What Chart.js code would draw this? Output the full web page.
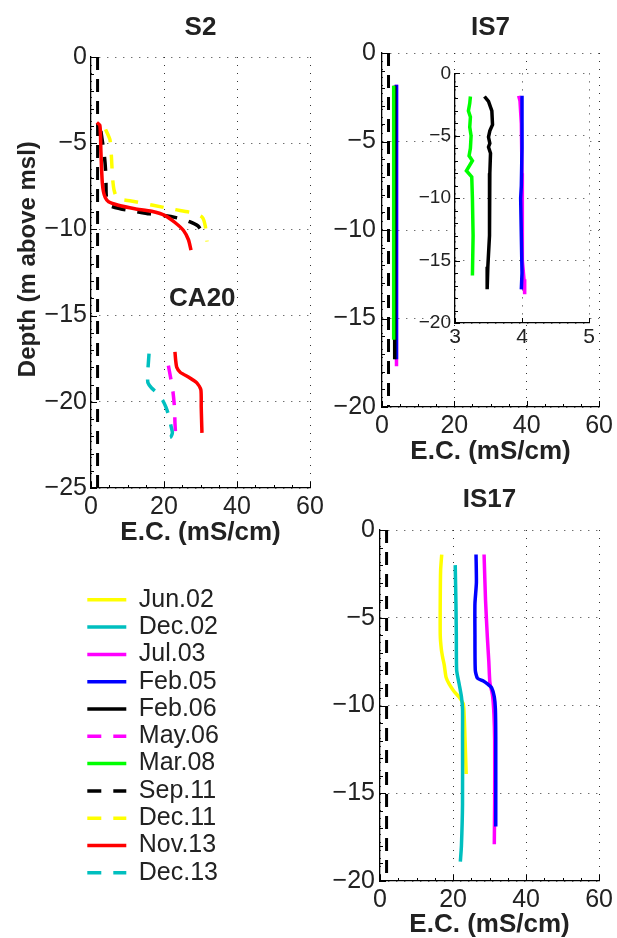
<!DOCTYPE html>
<html>
<head>
<meta charset="utf-8">
<script src="https://cdn.jsdelivr.net/npm/chart.js@4.4.0/dist/chart.umd.min.js"></script>
<style>
  html, body { margin: 0; padding: 0; background: #fff; overflow: hidden; }
  #wrap { position: relative; width: 617px; height: 938px; }
  canvas { position: absolute; }
</style>
</head>
<body>
<div id="wrap">
  <canvas id="cS2" width="330" height="550" style="left:0px;top:0px"></canvas>
  <canvas id="cIS7" width="297" height="470" style="left:320px;top:0px"></canvas>
  <canvas id="cInset" width="210" height="295" style="left:395px;top:58px"></canvas>
  <canvas id="cIS17" width="297" height="468" style="left:320px;top:470px"></canvas>
  <canvas id="cLegend" width="230" height="330" style="left:85px;top:585px"></canvas>
</div>
<script>
/* ---------- legend / survey dates ---------- */
const legendLabels = ['Jun.02', 'Dec.02', 'Jul.03', 'Feb.05', 'Feb.06', 'May.06', 'Mar.08', 'Sep.11', 'Dec.11', 'Nov.13', 'Dec.13'];
const legendColors = ['#ffff00', '#00bfbf', '#ff00ff', '#0000ff', '#000000', '#ff00ff', '#00ff00', '#000000', '#ffff00', '#ff0000', '#00bfbf'];
const legendDashed = [false, false, false, false, false, true, false, true, true, false, true];

/* ---------- profiles: [E.C. (mS/cm), depth (m above msl)] ---------- */
// vertical reference line drawn in every panel
const refS2 = [[1.8, 0], [1.8, -25]];
const refIS = [[1.8, 0], [1.8, -20]];

// S2
const s2Sep11 = [[2.7, -4.3], [3.2, -5.0], [3.7, -5.8], [4.0, -6.6], [4.1, -7.3], [4.2, -8.1], [5, -8.6], [8, -8.8], [12, -8.95], [16, -9.1], [20, -9.2], [24, -9.35], [27, -9.55], [29.3, -9.8], [30.6, -10.2]];
const s2Dec11 = [[4.0, -4.2], [5.2, -4.8], [5.6, -5.8], [5.9, -7.0], [6.3, -7.7], [7.2, -8.2], [11, -8.35], [17, -8.6], [23, -8.85], [28, -9.05], [30.5, -9.3], [31.3, -9.8], [31.8, -10.7]];
const s2Nov13 = [[1.6, -3.8], [2.4, -3.95], [2.6, -4.5], [2.7, -5.4], [2.9, -6.5], [3.1, -7.3], [3.4, -7.8], [3.9, -8.15], [4.8, -8.4], [7.5, -8.6], [12, -8.8], [16.6, -8.95], [20.3, -9.2], [23, -9.6], [25.3, -10.05], [26.7, -10.6], [27.4, -11.2]];

// CA20 (drawn in the S2 axes)
const ca20May06 = [[21.2, -17.9], [21.9, -18.7], [22.5, -19.5], [22.9, -20.4], [23.0, -21.2], [23.2, -22.0]];
const ca20Nov13 = [[23.0, -17.1], [23.2, -17.6], [23.5, -18.0], [24.5, -18.3], [27, -18.6], [29, -18.9], [30.1, -19.3], [30.2, -20.3], [30.3, -21.1], [30.4, -21.8]];
const ca20Dec13 = [[15.9, -17.2], [15.7, -17.8], [15.5, -18.4], [15.6, -18.9], [16.6, -19.2], [18.2, -19.5], [19.6, -19.9], [20.5, -20.3], [21.3, -20.8], [21.8, -21.3], [22.3, -21.8], [21.8, -22.05], [20.4, -22.1]];

// IS7
const is7Jul03 = [[3.95, -1.8], [3.97, -2.2], [3.99, -4], [4.0, -8], [4.0, -12], [4.01, -15], [4.03, -16.5], [4.04, -17.7]];
const is7Feb05 = [[4.0, -1.8], [4.0, -6], [3.99, -9], [3.98, -10], [3.99, -13], [4.0, -16], [3.99, -17.3]];
const is7Feb06 = [[3.44, -1.85], [3.50, -2.25], [3.55, -3.0], [3.56, -4.1], [3.52, -4.6], [3.50, -5.1], [3.52, -5.6], [3.50, -5.9], [3.53, -6.4], [3.52, -8], [3.52, -10.3], [3.51, -13], [3.49, -15.5], [3.48, -17.3]];
const is7Mar08 = [[3.23, -1.85], [3.22, -2.4], [3.20, -3.0], [3.23, -3.5], [3.22, -4.3], [3.24, -5.0], [3.23, -6.0], [3.21, -6.6], [3.26, -7.0], [3.17, -7.8], [3.25, -8.3], [3.26, -10], [3.27, -13], [3.26, -16.2]];

// IS17
const is17Jun02 = [[16.9, -1.4], [16.6, -2.3], [16.5, -4], [16.5, -6.0], [16.8, -6.8], [17.2, -7.3], [17.6, -7.7], [18.1, -8.4], [19.0, -8.8], [20.3, -9.2], [21.6, -9.5], [22.8, -9.9], [23.1, -10.8], [23.3, -12], [23.6, -13.9]];
const is17Dec02 = [[20.6, -2.0], [20.8, -4.2], [20.9, -6], [21.0, -8.0], [21.7, -8.8], [22.3, -9.5], [22.6, -10.2], [22.6, -11.8], [22.6, -15.6], [22.3, -18.0], [22.0, -18.9]];
const is17Jul03 = [[28.5, -1.4], [28.9, -4], [29.4, -6.1], [29.8, -7.5], [30.1, -8.7], [30.8, -9.4], [31.2, -10.5], [31.4, -12], [31.4, -15.5], [31.3, -17.9]];
const is17Feb05 = [[26.3, -1.4], [26.4, -3.0], [26.0, -4.2], [26.0, -6], [26.1, -8.0], [26.7, -8.45], [28.3, -8.6], [29.6, -8.8], [30.6, -9.0], [31.3, -9.5], [31.6, -10.2], [31.7, -11.8], [31.7, -16.9]];

/* ---------- helpers ---------- */
Chart.defaults.font.family = 'Helvetica, Arial, "Liberation Sans", sans-serif';
Chart.defaults.color = '#222';

const DASH = [14, 12];
const minus = v => String(v).replace('-', '\u2212');

function line(points, label, tension) {
  const i = legendLabels.indexOf(label);
  return {
    label: label,
    data: points.map(p => ({ x: p[0], y: p[1] })),
    borderColor: legendColors[i],
    backgroundColor: legendColors[i],
    borderDash: legendDashed[i] ? DASH : [],
    borderWidth: 3.5,
    pointRadius: 0,
    tension: tension === undefined ? 0.2 : tension,
    fill: false
  };
}

function refLine(points) {
  return {
    label: 'ref',
    data: points.map(p => ({ x: p[0], y: p[1] })),
    borderColor: '#000',
    borderDash: [13, 9],
    borderWidth: 3,
    pointRadius: 0,
    tension: 0
  };
}

// chart.js paints dataset 0 last; give later series a lower order so they end up on top
function stacked(list) {
  list.forEach((ds, i) => { ds.order = list.length - i; });
  return list;
}

function xScale(min, max, step, h, fontSize, pad, title, titlePad) {
  return {
    type: 'linear', position: 'bottom', min: min, max: max,
    ticks: { stepSize: step, padding: pad, font: { size: fontSize }, maxRotation: 0, autoSkip: false, callback: minus, color: '#222' },
    grid: { color: '#333', lineWidth: 1, drawTicks: false },
    border: { display: true, color: '#000', width: 1.3, dash: [1, 7] },
    title: title
      ? { display: true, text: title, font: { size: 26, weight: 'bold', lineHeight: 1 }, padding: { top: 0, bottom: titlePad }, color: '#222' }
      : { display: false },
    afterFit: s => { s.height = h; }
  };
}

function yScale(min, max, step, w, fontSize, pad, title, titlePad) {
  return {
    type: 'linear', position: 'left', min: min, max: max,
    ticks: { stepSize: step, padding: pad, font: { size: fontSize }, autoSkip: false, callback: minus, color: '#222' },
    grid: { color: '#333', lineWidth: 1, drawTicks: false },
    border: { display: true, color: '#000', width: 1.3, dash: [1, 7] },
    title: title
      ? { display: true, text: title, font: { size: 24, weight: 'bold', lineHeight: 1 }, padding: { top: titlePad, bottom: 0 }, color: '#222' }
      : { display: false },
    afterFit: s => { s.width = w; }
  };
}

// inward major/minor tick marks, matlab style
const innerTicks = {
  id: 'innerTicks',
  afterDatasetsDraw(chart, args, o) {
    const { ctx, chartArea: a, scales: { x, y } } = chart;
    const steps = (sc, minor, major) => {
      const out = [];
      const n = Math.round((sc.max - sc.min) / minor);
      for (let i = 0; i <= n; i++) {
        const v = sc.min + i * minor;
        out.push([v, Math.abs(v / major - Math.round(v / major)) < 1e-6]);
      }
      return out;
    };
    ctx.save();
    ctx.strokeStyle = '#000';
    ctx.lineWidth = 1;
    ctx.beginPath();
    steps(x, o.xMinor, o.xMajor).forEach(([v, m]) => {
      const px = Math.round(x.getPixelForValue(v)) + 0.5;
      ctx.moveTo(px, a.bottom);
      ctx.lineTo(px, a.bottom - (m ? o.major : o.minor));
    });
    steps(y, o.yMinor, o.yMajor).forEach(([v, m]) => {
      const py = Math.round(y.getPixelForValue(v)) + 0.5;
      ctx.moveTo(a.left, py);
      ctx.lineTo(a.left + (m ? o.major : o.minor), py);
    });
    ctx.stroke();
    ctx.restore();
  }
};

// text label placed in data coordinates (CA20)
const panelLabel = {
  id: 'panelLabel',
  afterDatasetsDraw(chart, args, o) {
    const { ctx, scales: { x, y } } = chart;
    ctx.save();
    ctx.font = 'bold 26px Helvetica, Arial, "Liberation Sans", sans-serif';
    ctx.fillStyle = '#222';
    ctx.textAlign = 'center';
    ctx.textBaseline = 'middle';
    ctx.fillText(o.text, x.getPixelForValue(o.x), y.getPixelForValue(o.y));
    ctx.restore();
  }
};

// white axes background for the inset
const whiteArea = {
  id: 'whiteArea',
  beforeDraw(chart) {
    const { ctx, chartArea: a } = chart;
    ctx.save();
    ctx.fillStyle = '#fff';
    ctx.fillRect(a.left, a.top, a.right - a.left, a.bottom - a.top);
    ctx.restore();
  }
};

const mainTicks = { xMinor: 5, xMajor: 20, yMinor: 1, yMajor: 5, major: 6, minor: 3 };

function titleOpts(text, top, bottom) {
  return { display: true, text: text, fullSize: false, font: { size: 26, weight: 'bold', lineHeight: 1.2 }, padding: { top: top, bottom: bottom }, color: '#222' };
}

/* ============================================================
   S2 (+ CA20)
============================================================ */
new Chart(document.getElementById('cS2'), {
  type: 'line',
  data: {
    datasets: stacked([
      refLine(refS2),
      line(s2Sep11, 'Sep.11'),
      line(s2Dec11, 'Dec.11'),
      line(s2Nov13, 'Nov.13'),
      line(ca20May06, 'May.06'),
      line(ca20Nov13, 'Nov.13'),
      line(ca20Dec13, 'Dec.13')
    ])
  },
  options: {
    responsive: false,
    animation: false,
    layout: { padding: { left: 0, right: 20, top: 0, bottom: 0 } },
    plugins: {
      legend: { display: false },
      tooltip: { enabled: false },
      title: titleOpts('S2', 12.4, 13.4),
      innerTicks: mainTicks,
      panelLabel: { text: 'CA20', x: 30.5, y: -14 }
    },
    scales: {
      x: xScale(0, 60, 20, 62, 25, 4, 'E.C. (mS/cm)', 4),
      // leading spaces push the rotated label up a little, as in the original
      y: yScale(-25, 0, 5, 91, 25, 4, '\u00a0\u00a0\u00a0\u00a0Depth (m above msl)', 16)
    }
  },
  plugins: [innerTicks, panelLabel]
});

/* ============================================================
   IS7
============================================================ */
new Chart(document.getElementById('cIS7'), {
  type: 'line',
  data: {
    datasets: stacked([
      refLine(refIS),
      line(is7Jul03, 'Jul.03', 0),
      line(is7Feb05, 'Feb.05', 0),
      line(is7Feb06, 'Feb.06', 0),
      line(is7Mar08, 'Mar.08', 0)
    ])
  },
  options: {
    responsive: false,
    animation: false,
    layout: { padding: { left: 0, right: 16, top: 0, bottom: 0 } },
    plugins: {
      legend: { display: false },
      tooltip: { enabled: false },
      title: titleOpts('IS7', 12.4, 9.4),
      innerTicks: mainTicks
    },
    scales: {
      x: xScale(0, 60, 20, 63, 25, 4, 'E.C. (mS/cm)', 5),
      y: yScale(-20, 0, 5, 62, 25, 6)
    }
  },
  plugins: [innerTicks]
});

/* ---------- IS7 inset (zoom on 3-5 mS/cm) ---------- */
new Chart(document.getElementById('cInset'), {
  type: 'line',
  data: {
    datasets: stacked([
      line(is7Jul03, 'Jul.03', 0),
      line(is7Feb05, 'Feb.05', 0),
      line(is7Feb06, 'Feb.06', 0),
      line(is7Mar08, 'Mar.08', 0)
    ])
  },
  options: {
    responsive: false,
    animation: false,
    layout: { padding: { left: 0, right: 16, top: 10, bottom: 0 } },
    plugins: {
      legend: { display: false },
      tooltip: { enabled: false },
      innerTicks: { xMinor: 1, xMajor: 1, yMinor: 1, yMajor: 5, major: 5, minor: 3 }
    },
    scales: {
      x: xScale(3, 5, 1, 30, 21, 2),
      y: yScale(-20, 0, 5, 60, 19, 4)
    }
  },
  plugins: [whiteArea, innerTicks]
});

/* ============================================================
   IS17
============================================================ */
new Chart(document.getElementById('cIS17'), {
  type: 'line',
  data: {
    datasets: stacked([
      refLine(refIS),
      line(is17Jun02, 'Jun.02'),
      line(is17Dec02, 'Dec.02'),
      line(is17Jul03, 'Jul.03'),
      line(is17Feb05, 'Feb.05')
    ])
  },
  options: {
    responsive: false,
    animation: false,
    layout: { padding: { left: 0, right: 16, top: 0, bottom: 0 } },
    plugins: {
      legend: { display: false },
      tooltip: { enabled: false },
      title: titleOpts('IS17', 14.4, 14.4),
      innerTicks: mainTicks
    },
    scales: {
      x: xScale(0, 60, 20, 57, 25, 4, 'E.C. (mS/cm)', 0),
      y: yScale(-20, 0, 5, 60, 25, 5)
    }
  },
  plugins: [innerTicks]
});

/* ============================================================
   LEGEND
============================================================ */
new Chart(document.getElementById('cLegend'), {
  type: 'line',
  data: {
    datasets: legendLabels.map((l, i) => ({
      label: l,
      data: [],
      borderColor: legendColors[i],
      backgroundColor: legendColors[i],
      borderWidth: 3.5,
      borderDash: legendDashed[i] ? DASH : []
    }))
  },
  options: {
    responsive: false,
    animation: false,
    layout: { padding: 0 },
    scales: { x: { display: false }, y: { display: false } },
    plugins: {
      tooltip: { enabled: false },
      legend: {
        position: 'left',
        align: 'start',
        maxWidth: 220,
        onClick: null,
        labels: {
          usePointStyle: true, pointStyle: 'line', pointStyleWidth: 39,
          font: { size: 25 }, padding: 2.3, color: '#222',
          // point styles carry no dash, so copy it from the dataset
          generateLabels(chart) {
            const items = Chart.defaults.plugins.legend.labels.generateLabels(chart);
            items.forEach((it, i) => {
              const ds = chart.data.datasets[i];
              it.lineDash = ds.borderDash;
              it.lineWidth = ds.borderWidth;
              it.strokeStyle = ds.borderColor;
            });
            return items;
          }
        }
      }
    }
  }
});
</script>
</body>
</html>
